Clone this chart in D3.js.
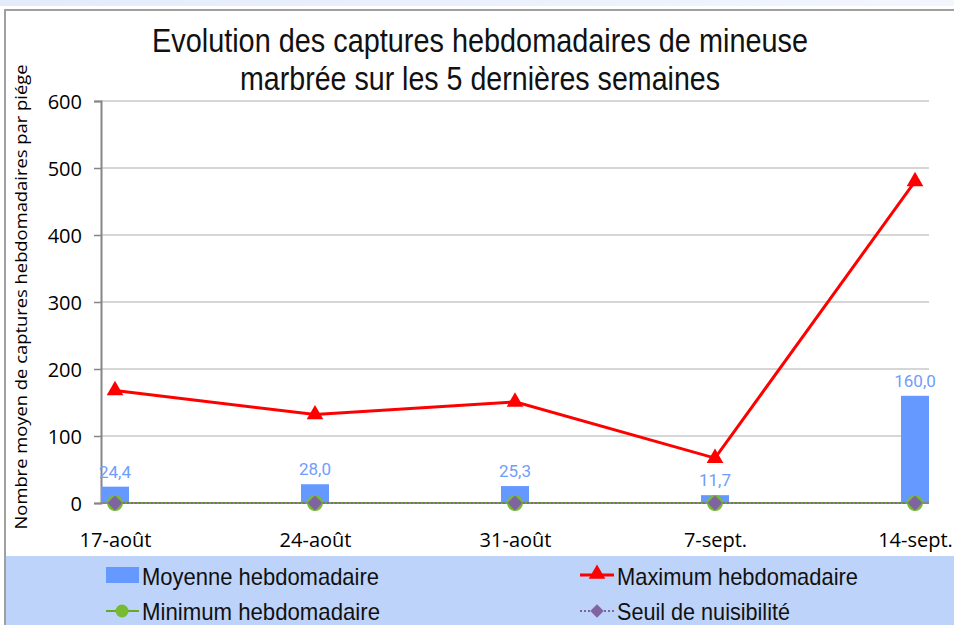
<!DOCTYPE html>
<html>
<head>
<meta charset="utf-8">
<script src="https://cdn.jsdelivr.net/npm/d3@7"></script>
<style>
  body { margin: 0; background: #fff; }
  svg { display: block; }
</style>
</head>
<body>
<svg width="954" height="625"></svg>
<script>
const weeks = ['17-août', '24-août', '31-août', '7-sept.', '14-sept.'];
const moyenne = [24.4, 28.0, 25.3, 11.7, 160.0];
const maximum = [168, 132, 151, 67, 480];
const minimum = [0, 0, 0, 0, 0];
const seuil = [0, 0, 0, 0, 0];
const yTicks = [0, 100, 200, 300, 400, 500, 600];

const svg = d3.select('svg');
const sans = '"Liberation Sans", Arial, sans-serif';

// top strip + frame
const grad = svg.append('defs').append('linearGradient').attr('id', 'top');
grad.append('stop').attr('offset', '0%').attr('stop-color', '#e3ebfb');
grad.append('stop').attr('offset', '100%').attr('stop-color', '#f3f6fd');
svg.append('rect').attr('x', 0).attr('y', 0).attr('width', 954).attr('height', 6).attr('fill', 'url(#top)');
svg.append('line').attr('x1', 4).attr('x2', 954).attr('y1', 10).attr('y2', 10)
  .attr('stroke', '#a0a0a0').attr('stroke-width', 2);
svg.append('line').attr('x1', 5).attr('x2', 5).attr('y1', 9).attr('y2', 625)
  .attr('stroke', '#a0a0a0').attr('stroke-width', 2);

// legend background
svg.append('rect').attr('x', 6).attr('y', 556).attr('width', 948).attr('height', 69).attr('fill', '#bed3f9');

const x = d3.scalePoint().domain(weeks).range([115, 915]);
const y = d3.scaleLinear().domain([0, 600]).range([503, 101]);
const left = 101, right = 929;

// condensed text helper
function ctext(g, tx, ty, str, size, len, anchor) {
  return g.append('text').attr('x', tx).attr('y', ty)
    .attr('text-anchor', anchor || 'start')
    .attr('textLength', len).attr('lengthAdjust', 'spacingAndGlyphs')
    .style('font-family', sans).style('font-size', size + 'px').attr('fill', '#111')
    .text(str);
}

// title
ctext(svg, 480, 52, 'Evolution des captures hebdomadaires de mineuse', 33, 656, 'middle');
ctext(svg, 480, 90, 'marbrée sur les 5 dernières semaines', 33, 480, 'middle');

// gridlines
svg.append('g').selectAll('line').data(yTicks.slice(1)).join('line')
  .attr('x1', left).attr('x2', right)
  .attr('y1', d => y(d)).attr('y2', d => y(d))
  .attr('stroke', '#c8c8c8').attr('stroke-width', 1.5);

// y axis
const yAxis = svg.append('g').attr('transform', `translate(${left},0)`)
  .call(d3.axisLeft(y).tickValues(yTicks).tickSize(7).tickPadding(12));
yAxis.select('.domain').attr('stroke', '#868686').attr('stroke-width', 2);
yAxis.selectAll('.tick line').attr('stroke', '#868686').attr('stroke-width', 1.5);
yAxis.selectAll('text').style('font-family', '"Open Sans", sans-serif').style('font-size', '20px')
  .attr('fill', '#000').attr('dy', '0.35em');

svg.append('text')
  .attr('transform', 'translate(27,297) rotate(-90)')
  .attr('text-anchor', 'middle')
  .attr('textLength', 465).attr('lengthAdjust', 'spacingAndGlyphs')
  .style('font-family', '"Open Sans", sans-serif').style('font-size', '17px').attr('fill', '#000')
  .text('Nombre moyen de captures hebdomadaires par piége');

// bars
const bw = 28;
svg.append('g').selectAll('rect').data(moyenne).join('rect')
  .attr('x', (d, i) => x(weeks[i]) - bw / 2)
  .attr('y', d => y(d))
  .attr('width', bw)
  .attr('height', d => y(0) - y(d))
  .attr('fill', '#6699ff');

svg.append('g').selectAll('text').data(moyenne).join('text')
  .attr('x', (d, i) => x(weeks[i]))
  .attr('y', d => y(d) - 9)
  .attr('text-anchor', 'middle')
  .style('font-family', 'Roboto, sans-serif').style('font-size', '17px').attr('fill', '#6f9dfb')
  .text(d => d.toFixed(1).replace('.', ','));

// x axis
const xAxis = svg.append('g').attr('transform', `translate(0,${y(0)})`)
  .call(d3.axisBottom(x).tickSize(0));
xAxis.select('.domain').attr('d', `M${left},0H${right}`).attr('stroke', '#868686').attr('stroke-width', 2);
xAxis.selectAll('text').style('font-family', '"Open Sans", sans-serif').style('font-size', '20px')
  .attr('fill', '#000').attr('dy', null).attr('y', 44);

const line = d3.line().x((d, i) => x(weeks[i])).y(d => y(d));

// minimum (green) and seuil (purple dotted)
svg.append('path').datum(minimum).attr('d', line).attr('fill', 'none')
  .attr('stroke', '#66aa22').attr('stroke-width', 2);
svg.append('path').datum(seuil).attr('d', line).attr('fill', 'none')
  .attr('stroke', '#8064a2').attr('stroke-width', 2).attr('stroke-dasharray', '2,2');
svg.append('g').selectAll('circle').data(minimum).join('circle')
  .attr('cx', (d, i) => x(weeks[i])).attr('cy', d => y(d)).attr('r', 8)
  .attr('fill', '#77bb33');
svg.append('g').selectAll('path').data(seuil).join('path')
  .attr('d', d3.symbol(d3.symbolSquare, 115))
  .attr('transform', (d, i) => `translate(${x(weeks[i])},${y(d)}) rotate(45)`)
  .attr('fill', '#8064a2');

// maximum
svg.append('path').datum(maximum).attr('d', line).attr('fill', 'none')
  .attr('stroke', '#ff0000').attr('stroke-width', 3);
svg.append('g').selectAll('path').data(maximum).join('path')
  .attr('d', d3.symbol(d3.symbolTriangle, 120))
  .attr('transform', (d, i) => `translate(${x(weeks[i])},${y(d)})`)
  .attr('fill', '#ff0000');

// legend
const lg = svg.append('g');
lg.append('rect').attr('x', 106).attr('y', 567).attr('width', 33).attr('height', 16).attr('fill', '#6699ff');
ctext(lg, 142, 585, 'Moyenne hebdomadaire', 24, 237);

lg.append('line').attr('x1', 580).attr('x2', 614).attr('y1', 575).attr('y2', 575).attr('stroke', '#ff0000').attr('stroke-width', 3);
lg.append('path').attr('d', d3.symbol(d3.symbolTriangle, 120)).attr('transform', 'translate(597,574)').attr('fill', '#ff0000');
ctext(lg, 617, 585, 'Maximum hebdomadaire', 24, 241);

lg.append('line').attr('x1', 106).attr('x2', 139).attr('y1', 611).attr('y2', 611).attr('stroke', '#66aa22').attr('stroke-width', 2);
lg.append('circle').attr('cx', 122).attr('cy', 611).attr('r', 6.5).attr('fill', '#77bb33');
ctext(lg, 142, 620, 'Minimum hebdomadaire', 24, 238);

lg.append('line').attr('x1', 580).attr('x2', 614).attr('y1', 611).attr('y2', 611).attr('stroke', '#8064a2').attr('stroke-width', 2).attr('stroke-dasharray', '2,2');
lg.append('path').attr('d', d3.symbol(d3.symbolSquare, 90)).attr('transform', 'translate(597,611) rotate(45)').attr('fill', '#8064a2');
ctext(lg, 617, 620, 'Seuil de nuisibilité', 24, 173);
</script>
</body>
</html>
